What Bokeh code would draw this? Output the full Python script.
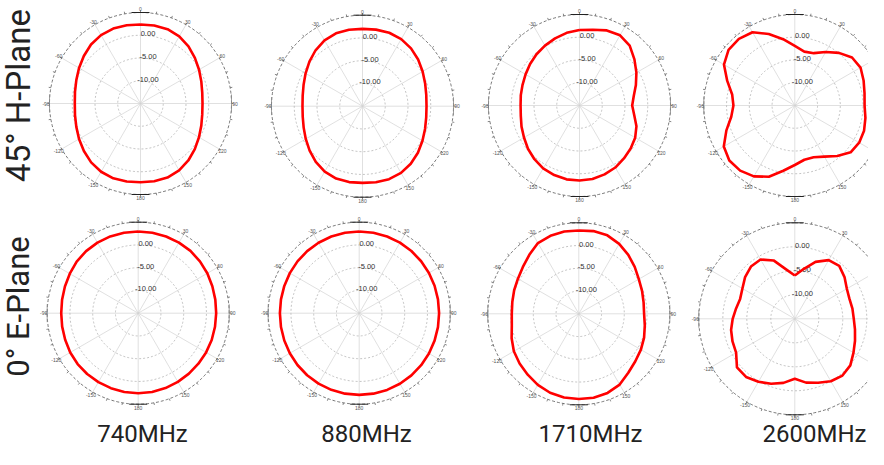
import math
from bokeh.plotting import figure
from bokeh.models import Range1d, ColumnDataSource
from bokeh.core.properties import value
from bokeh.embed import file_html
from bokeh.resources import INLINE

# ---------------- data ----------------
angles_deg = list(range(0, 360, 10))          # measured clockwise from top
frequencies = ["740MHz", "880MHz", "1710MHz", "2600MHz"]
planes = ["45° H-Plane", "0° E-Plane"]
ring_levels = [-10, -5, 0]
ring_labels = ["-10.00", "-5.00", "0.00"]
angle_tick_values = [0, 30, 60, 90, 120, 150, 180, 210, 240, 270, 300, 330]
angle_tick_labels = ["0", "30", "60", "90", "120", "150", "180",
                     "-150", "-120", "-90", "-60", "-30"]
r_min, r_max = -15, 5

h740 = [2.36, 2.41, 2.38, 2.03, 1.40, 0.60, -0.14, -0.78, -1.22, -1.37,
        -1.22, -0.78, -0.16, 0.58, 1.35, 1.97, 2.32, 2.34, 2.30,
        2.41, 2.49, 2.32, 1.88, 1.24, 0.60, 0.01, -0.38, -0.56,
        -0.38, 0.01, 0.60, 1.26, 1.92, 2.36, 2.52, 2.45]
h880 = [1.99, 2.09, 2.18, 2.03, 1.59, 0.96, 0.26, -0.35, -0.77, -0.93,
        -0.78, -0.37, 0.22, 0.90, 1.50, 1.93, 2.06, 1.97, 1.86,
        1.94, 1.92, 1.60, 0.97, 0.17, -0.60, -1.24, -1.66, -1.81,
        -1.65, -1.22, -0.56, 0.23, 1.05, 1.70, 2.04, 2.07]
h1710 = [1.59, 1.90, 2.56, 2.82, 2.16, 0.76, -0.56, -1.81, -2.89, -3.42,
         -2.78, -1.68, -0.87, -0.32, 0.19, 0.74, 1.11, 1.42, 1.48,
         1.48, 1.26, 0.98, 0.41, -0.21, -0.91, -1.44, -1.90, -2.05,
         -1.90, -1.68, -1.31, -0.82, -0.30, 0.19, 0.69, 1.22]
h2600 = [-1.92, -2.98, -2.76, -1.44, 0.10, 1.42, 1.68, 1.09, 0.56, 0.34,
         0.76, 1.20, 1.33, 1.02, -0.49, -2.03, -2.91, -2.89, -1.92,
         -0.43, 1.66, 2.98, 3.68, 3.79, 3.02, 1.00, -0.82, -1.51,
         -1.02, 0.80, 2.98, 4.01, 4.12, 3.59, 1.73, -0.21]
e740 = [2.96, 2.96, 2.93, 2.91, 2.87, 2.71, 2.54, 2.34, 2.21, 2.14,
        2.14, 2.19, 2.23, 2.27, 2.34, 2.43, 2.52, 2.58, 2.58,
        2.58, 2.54, 2.49, 2.45, 2.38, 2.25, 2.08, 1.97, 1.92,
        1.99, 2.14, 2.36, 2.65, 2.82, 2.91, 2.96, 2.96]
e880 = [2.95, 2.95, 2.93, 2.90, 2.84, 2.77, 2.70, 2.63, 2.58, 2.56,
        2.58, 2.63, 2.70, 2.78, 2.85, 2.90, 2.94, 2.95, 2.95,
        2.95, 2.93, 2.88, 2.80, 2.71, 2.61, 2.52, 2.46, 2.43,
        2.46, 2.52, 2.61, 2.71, 2.80, 2.88, 2.93, 2.95]
e1710 = [3.31, 3.46, 3.35, 2.74, 1.92, 1.04, 0.23, -0.21, -0.54, -0.65,
         -0.27, 0.27, 0.76, 1.22, 1.92, 2.96, 3.51, 3.73, 3.73,
         3.68, 3.46, 3.02, 2.47, 1.99, 1.48, 0.71, -0.05, -0.27,
         -0.16, 0.12, 0.45, 1.04, 1.92, 2.96, 3.24, 3.35]
e2600 = [-5.98, -4.48, -2.38, -0.88, -0.60, -1.48, -2.48, -2.88, -2.81, -2.71,
         -2.27, -1.65, -0.88, 0.10, 0.44, 0.02, -0.81, -1.50, -2.50,
         -1.44, -0.60, 0.15, 0.81, 0.73, -0.88, -1.19, -1.52, -2.06,
         -2.58, -2.88, -2.40, -1.48, -0.79, -0.73, -2.06, -4.54]

patterns = [[h740, h880, h1710, h2600], [e740, e880, e1710, e2600]]

# ---------------- layout (pixel positions of panels) ----------------
W, H = 868, 449
centers = [[(140, 103), (362, 105.7), (579, 105), (794.3, 105)],
           [(137.7, 312.7), (358.7, 312.7), (578.3, 313.3), (794.3, 318.3)]]
px_per_db = [[4.55, 4.55, 4.55, 4.55], [4.55, 4.55, 4.55, 4.8]]
col_label_x = [142, 366, 590, 814]
col_label_y = 433
row_label_x = 18
row_label_y = [95, 306]
row_label_size = ["33px", "31px"]

p = figure(width=W, height=H, output_backend="svg", toolbar_location=None,
           x_range=Range1d(0, W), y_range=Range1d(H, 0),
           x_axis_type=None, y_axis_type=None, min_border=0)
p.grid.visible = False
p.outline_line_color = None
p.background_fill_color = "white"


def pt(cx, cy, s, ang, db):
    r = (db - r_min) * s
    a = math.radians(ang)
    return cx + r * math.sin(a), cy - r * math.cos(a)


for ri in range(2):
    for ci in range(4):
        cx, cy = centers[ri][ci]
        s = px_per_db[ri][ci]
        R = (r_max - r_min) * s
        # spokes
        xs0, ys0, xs1, ys1 = [], [], [], []
        for a in angle_tick_values:
            x1, y1 = pt(cx, cy, s, a, r_max)
            xs0.append(cx); ys0.append(cy); xs1.append(x1); ys1.append(y1)
        p.segment(xs0, ys0, xs1, ys1, line_color="#d2d2d2", line_width=0.7)
        # dB rings
        for lev in ring_levels:
            cxs, cys = zip(*[pt(cx, cy, s, a, lev) for a in range(0, 361, 2)])
            p.line(list(cxs), list(cys), line_color="#b5b5b5", line_width=0.8,
                   line_dash="2 2")
        # outer ring
        oxs, oys = zip(*[pt(cx, cy, s, a, r_max) for a in range(0, 361, 1)])
        p.line(list(oxs), list(oys), line_color="#555555", line_width=0.8,
               line_dash="3 2")
        tx0, ty0, tx1, ty1 = [], [], [], []
        for a in range(0, 360, 10):
            x0, y0 = pt(cx, cy, s, a, r_max)
            x1, y1 = pt(cx, cy, s, a, r_max + 2.2 / s)
            tx0.append(x0); ty0.append(y0); tx1.append(x1); ty1.append(y1)
        p.segment(tx0, ty0, tx1, ty1, line_color="#555555", line_width=0.7)
        # bracket marks at top / bottom / sides
        p.segment([cx - 9, cx - 9], [cy - R, cy + R], [cx + 9, cx + 9], [cy - R, cy + R],
                  line_color="#222222", line_width=1.0)
        p.segment([cx - R, cx + R], [cy - 9, cy - 9], [cx - R, cx + R], [cy + 9, cy + 9],
                  line_color="#888888", line_width=0.8)
        # angle labels (only those inside the canvas)
        lab_x, lab_y, lab_t = [], [], []
        for a, t in zip(angle_tick_values, angle_tick_labels):
            x, y = pt(cx, cy, s, a, r_max + 3.5 / s)
            if 4 < x < W - 4:
                lab_x.append(x); lab_y.append(y); lab_t.append(t)
        p.text(lab_x, lab_y, text=lab_t, text_font=value("Liberation Sans"),
               text_font_size=value("5px"), text_color="#555555",
               text_align="center", text_baseline="middle")
        # ring labels
        rly = [cy - (lev - r_min) * s - 1.5 for lev in ring_levels]
        p.text([cx + 7.5] * len(ring_levels), rly, text=ring_labels,
               text_font=value("Liberation Sans"), text_font_size=value("7.5px"),
               text_color="#333333", text_align="center", text_baseline="middle")
        # pattern
        vals = patterns[ri][ci]
        px_, py_ = zip(*[pt(cx, cy, s, a, v) for a, v in zip(angles_deg, vals)])
        src = ColumnDataSource(dict(x=list(px_) + [px_[0]], y=list(py_) + [py_[0]]))
        p.line("x", "y", source=src, line_color="#ff0000", line_width=2.6,
               line_join="round")

# column labels
p.text(col_label_x, [col_label_y] * 4, text=frequencies, text_font=value("Roboto"),
       text_font_size=value("24px"), text_color="#222222",
       text_align="center", text_baseline="middle")
# row labels
src_rows = ColumnDataSource(dict(x=[row_label_x] * 2, y=row_label_y, t=planes,
                                 fs=row_label_size))
p.text("x", "y", text="t", source=src_rows, text_font=value("Roboto"),
       text_font_size="fs", text_color="#222222", angle=math.pi / 2,
       text_align="center", text_baseline="middle")

open("out.html", "w").write(file_html(p, INLINE))
